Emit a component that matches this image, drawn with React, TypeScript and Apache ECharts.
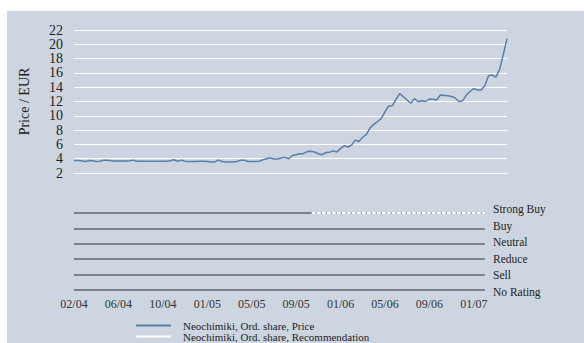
import React, { useEffect, useRef } from "react";
import * as echarts from "echarts";

const priceValues: number[] = [
  3.75, 3.75, 3.7, 3.62, 3.75, 3.72, 3.6, 3.65, 3.78, 3.78,
  3.7, 3.68, 3.68, 3.68, 3.68, 3.7, 3.8, 3.65, 3.65, 3.65,
  3.65, 3.65, 3.65, 3.65, 3.65, 3.65, 3.7, 3.85, 3.65, 3.8,
  3.65, 3.62, 3.62, 3.62, 3.65, 3.65, 3.6, 3.55, 3.55, 3.8,
  3.6, 3.55, 3.55, 3.55, 3.6, 3.8, 3.8, 3.6, 3.6, 3.6,
  3.65, 3.85, 4.0, 4.12, 3.96, 3.96, 4.1, 4.19, 4.0, 4.45,
  4.55, 4.7, 4.7, 5.0, 5.05, 4.94, 4.7, 4.55, 4.85, 4.89,
  5.1, 4.95, 5.4, 5.8, 5.64, 5.9, 6.6, 6.4, 7.0, 7.4,
  8.3, 8.8, 9.2, 9.6, 10.5, 11.35, 11.4, 12.3, 13.1, 12.67,
  12.21, 11.75, 12.4, 11.97, 12.1, 12.0, 12.35, 12.3, 12.2, 12.9,
  12.85, 12.8, 12.7, 12.5, 12.0, 12.1, 12.9, 13.4, 13.8, 13.6,
  13.6, 14.2, 15.6, 15.7, 15.4, 16.5, 18.6, 20.8,
];

const xLabels: string[] = ["02/04", "06/04", "10/04", "01/05", "05/05", "09/05", "01/06", "05/06", "09/06", "01/07"];
const ratings: string[] = ["No Rating", "Sell", "Reduce", "Neutral", "Buy", "Strong Buy"];
const recX: number[] = [21.4, 37];
const recY: number[] = [5, 5];

const priceName = "Neochimiki, Ord. share, Price";
const recName = "Neochimiki, Ord. share, Recommendation";

const FONT = "Liberation Serif";

export default function App() {
  const ref = useRef<HTMLDivElement>(null);
  useEffect(() => {
    if (!ref.current) return;
    const chart = echarts.init(ref.current, undefined, { renderer: "svg" });
    const legendBase = {
      orient: "horizontal",
      left: 136,
      itemWidth: 35,
      itemHeight: 2,
      itemGap: 12,
      icon: "rect",
      padding: 0,
      textStyle: { fontFamily: FONT, fontSize: 11, color: "#222", padding: [0, 0, 0, 7] },
    };
    chart.setOption({
      animation: false,
      backgroundColor: "transparent",
      textStyle: { fontFamily: FONT },
      legend: [
        { ...legendBase, top: 320, data: [priceName] },
        { ...legendBase, top: 331, data: [recName] },
      ],
      grid: [
        { left: 74, right: 77, top: 30, height: 143 },
        { left: 74, right: 99, top: 213, height: 77 },
        { left: 74, right: 99, top: 209, height: 83 },
      ],
      xAxis: [
        {
          gridIndex: 0,
          type: "category",
          boundaryGap: false,
          data: priceValues.map((_, i) => String(i)),
          show: false,
        },
        {
          gridIndex: 1,
          type: "value",
          min: 0,
          max: 37,
          interval: 4,
          axisLine: { show: false },
          axisTick: { show: false },
          splitLine: { show: false },
          axisLabel: {
            margin: 8,
            fontFamily: FONT,
            fontSize: 12,
            color: "#333",
            showMaxLabel: false,
            formatter: (v: number) => (v % 4 === 0 ? xLabels[v / 4] ?? "" : ""),
          },
        },
        { gridIndex: 2, type: "value", min: 0, max: 37, show: false },
      ],
      yAxis: [
        {
          gridIndex: 0,
          type: "value",
          min: 2,
          max: 22,
          interval: 2,
          name: "Price / EUR",
          nameLocation: "middle",
          nameGap: 43,
          nameRotate: 90,
          nameTextStyle: { fontFamily: FONT, fontSize: 14, color: "#222" },
          axisLine: { show: false },
          axisTick: { show: false },
          axisLabel: { margin: 11, fontFamily: FONT, fontSize: 14, color: "#222" },
          splitLine: { show: true, lineStyle: { color: "#ffffff", width: 1 } },
        },
        {
          gridIndex: 1,
          type: "value",
          min: 0,
          max: 5,
          interval: 1,
          axisLine: { show: false },
          axisTick: { show: false },
          axisLabel: { show: false },
          splitLine: { show: true, lineStyle: { color: "#7d8288", width: 2 } },
        },
        {
          gridIndex: 2,
          type: "value",
          min: 0,
          max: 5,
          interval: 1,
          position: "right",
          axisLine: { show: false },
          axisTick: { show: false },
          splitLine: { show: false },
          axisLabel: {
            margin: 8,
            fontFamily: FONT,
            fontSize: 11.5,
            color: "#222",
            formatter: (v: number) => ratings[v] ?? "",
          },
        },
      ],
      series: [
        {
          name: priceName,
          type: "line",
          xAxisIndex: 0,
          yAxisIndex: 0,
          data: priceValues,
          showSymbol: false,
          symbol: "none",
          lineStyle: { color: "#5a7ea8", width: 1.5 },
          itemStyle: { color: "#5a7ea8" },
        },
        {
          name: recName,
          type: "line",
          xAxisIndex: 1,
          yAxisIndex: 1,
          data: recX.map((x, i) => [x, recY[i]]),
          showSymbol: false,
          symbol: "none",
          lineStyle: { color: "#ffffff", width: 2, type: [4, 1] },
          itemStyle: { color: "#ffffff" },
        },
      ],
    });
    return () => chart.dispose();
  }, []);

  return (
    <div style={{ position: "absolute", left: 0, top: 0, width: 584, height: 343, background: "#ffffff" }}>
      <div style={{ position: "absolute", left: 7, top: 11, right: 0, bottom: 0, background: "#cdd6e0" }} />
      <div ref={ref} style={{ position: "absolute", left: 0, top: 0, width: 584, height: 343 }} />
    </div>
  );
}
